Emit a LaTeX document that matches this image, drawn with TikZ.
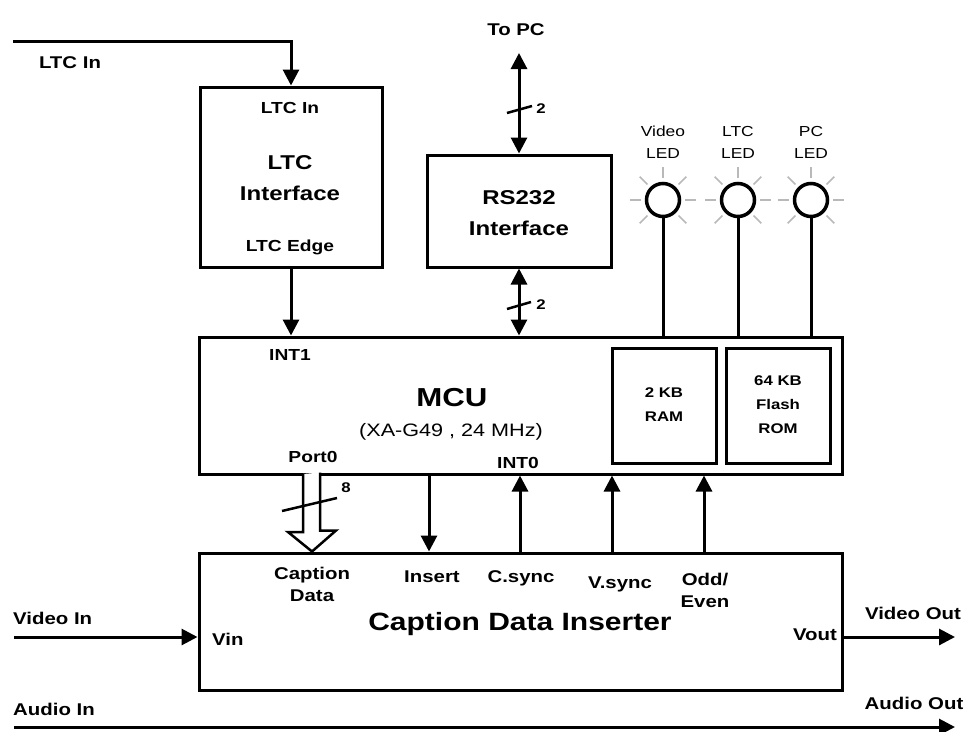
\documentclass[tikz,border=0pt]{standalone}
\usepackage{fontspec}
\setmainfont{Liberation Sans}[FakeStretch=1.2]
\usetikzlibrary{arrows.meta}
\begin{document}
\begin{tikzpicture}[x=1pt,y=-1pt,
  box/.style={draw, line width=3pt, inner sep=0pt, fill=white},
  wire/.style={line width=3pt},
  arr/.style={wire, -{Triangle[width=16pt,length=16pt]}},
  darr/.style={wire, {Triangle[width=16pt,length=16pt]}-{Triangle[width=16pt,length=16pt]}},
  lab/.style={font=\bfseries\fontsize{17}{22}\selectfont, inner sep=0pt, text depth=0pt, align=center},
  inl/.style={font=\bfseries\fontsize{16}{20}\selectfont, inner sep=0pt, text depth=0pt, align=center},
  ttl/.style={font=\bfseries\fontsize{20}{31}\selectfont, inner sep=0pt, align=center},
  memlab/.style={font=\bfseries\fontsize{14}{24}\selectfont, inner sep=0pt, align=center},
  ledlab/.style={font=\fontsize{14.5}{22}\selectfont, inner sep=0pt, align=center},
  num/.style={font=\bfseries\fontsize{14}{16}\selectfont, inner sep=0pt, text depth=0pt},
  ray/.style={gray!55, line width=1.5pt},
  led/.style={circle, draw, line width=3.5pt, minimum size=33pt, inner sep=0pt, fill=white},
  slash/.style={line width=2.5pt}
]
\useasboundingbox (0,0) rectangle (971,731);

% boxes
\node[box, minimum width=182pt, minimum height=180pt] (ltc) at (291,177) {};
\node[box, minimum width=184pt, minimum height=112pt] (rs) at (519,211) {};
\node[box, minimum width=643pt, minimum height=137pt] (mcu) at (520.5,405.5) {};
\node[box, minimum width=104pt, minimum height=115pt] (ram) at (664,405.5) {};
\node[box, minimum width=104pt, minimum height=115pt] (rom) at (778,405.5) {};
\node[box, minimum width=643pt, minimum height=137pt] (cdi) at (520.5,621.5) {};

% LEDs
\node[led] (led1) at (663,200) {};
\node[led] (led2) at (738,200) {};
\node[led] (led3) at (811,200) {};
\foreach \c in {led1,led2,led3}{
  \foreach \a in {0,45,135,180,225,270,315}{
    \draw[ray] (\c.center) ++(\a:22) -- ++(\a:11);
  }
  \draw[wire] (\c.south) -- (\c.south |- mcu.north);
}
\node[ledlab] (l1) at (663,142) {Video\\LED};
\node[ledlab] (l2) at (738,142) {LTC\\LED};
\node[ledlab] (l3) at (811,142) {PC\\LED};

% LTC
\coordinate (ltcsrc) at (13,41);
\draw[arr] (ltcsrc) -| (ltc.north);
\node[lab] (ltcinlab) at (70,63) {LTC In};
\node[inl] (ltcin) at (290,108) {LTC In};
\node[ttl] (ltcttl) at (290,178) {LTC\\Interface};
\node[inl] (ltcedge) at (290,246) {LTC Edge};
\draw[arr] (ltc.south) -- (ltc.south |- mcu.north);

% RS232
\coordinate (pc) at (519,53);
\node[lab] (topc) at (516,30) {To PC};
\draw[darr] (pc) -- (rs.north);
\draw[slash] (507,113) -- (532,106);
\node[num] (n2a) at (541,109) {2};
\node[ttl] (rsttl) at (519,213) {RS232\\Interface};
\draw[darr] (rs.south) -- (rs.south |- mcu.north);
\draw[slash] (507,309) -- (531,302);
\node[num] (n2b) at (541,305) {2};

% MCU texts
\node[font=\bfseries\fontsize{26}{30}\selectfont, inner sep=0pt, text depth=0pt] (mcut) at (452,397) {MCU};
\node[font=\fontsize{18}{22}\selectfont, inner sep=0pt] (mcus) at (451,432) {(XA-G49 , 24 MHz)};
\node[inl] (int1) at (290,355) {INT1};
\node[inl] (port0) at (313,457) {Port0};
\node[inl] (int0) at (518,463) {INT0};
\node[memlab] (ramt) at (664,405) {2 KB\\RAM};
\node[memlab] (romt) at (778,405) {64 KB\\Flash\\ROM};

% Port0 bus (hollow arrow)
\coordinate (p0) at (312,474);
\draw[line width=2.5pt, fill=white, line join=miter]
  ([xshift=-9pt]p0) -- ++(0,58) -- ++(-15,0) -- (p0 |- cdi.north) -- ++(24,-21) -- ++(-16,0) -- ++(0,-58);
\draw[slash] (282,511) -- (337,498);
\node[num] (n8) at (346,488) {8};

% control lines
\coordinate (xins) at (429,0);
\coordinate (xcs) at (520,0);
\coordinate (xvs) at (612,0);
\coordinate (xoe) at (704,0);
\draw[arr] (xins |- mcu.south) -- (xins |- cdi.north);
\draw[arr] (xcs |- cdi.north) -- (xcs |- mcu.south);
\draw[arr] (xvs |- cdi.north) -- (xvs |- mcu.south);
\draw[arr] (xoe |- cdi.north) -- (xoe |- mcu.south);

\node[lab] (capd) at (312,584) {Caption\\Data};
\node[lab] (ins) at (432,577) {Insert};
\node[lab] (csync) at (521,577) {C.sync};
\node[lab] (vsync) at (620,583) {V.sync};
\node[lab] (oe) at (705,590) {Odd/\\Even};
\node[font=\bfseries\fontsize{25}{30}\selectfont, inner sep=0pt, text depth=0pt] (cdit) at (520,621) {Caption Data Inserter};

% video / audio
\coordinate (vin) at (14,637);
\coordinate (vout) at (955,637);
\draw[arr] (vin) -- (vin -| cdi.west);
\draw[arr] (vout -| cdi.east) -- (vout);
\node[lab, anchor=west] (vinl) at (13,618) {Video In};
\node[lab, anchor=west] (vinp) at (212,639) {Vin};
\node[lab, anchor=east] (voutp) at (837,635) {Vout};
\node[lab] (voutl) at (913,613) {Video Out};
\coordinate (ain) at (14,727);
\coordinate (aout) at (955,727);
\draw[arr] (ain) -- (aout);
\node[lab, anchor=west] (ainl) at (13,709) {Audio In};
\node[lab] (aoutl) at (914,703) {Audio Out};
\end{tikzpicture}
\end{document}
